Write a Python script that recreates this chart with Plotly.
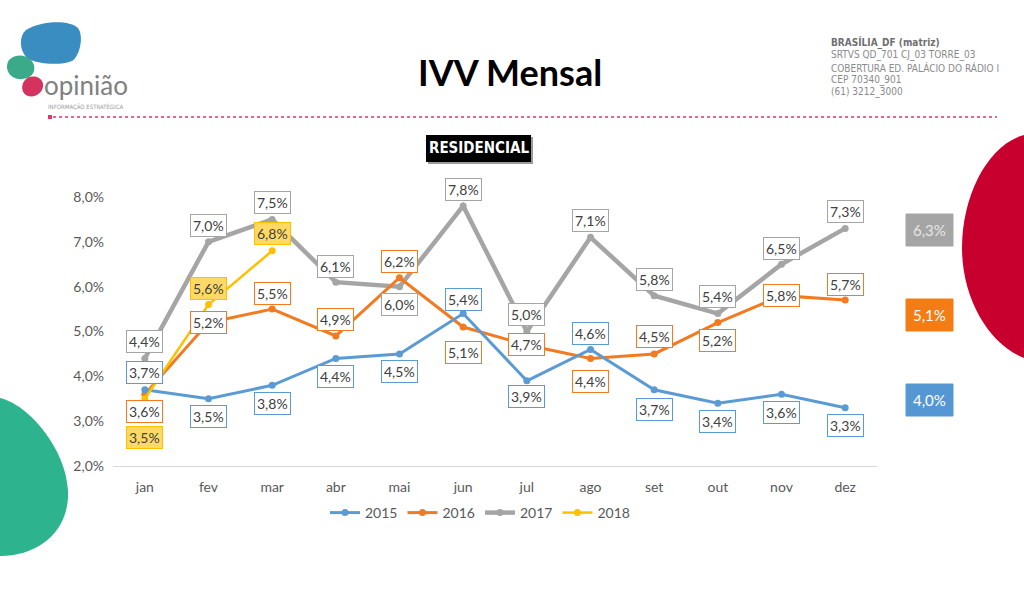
import plotly.graph_objects as go

months = ["jan", "fev", "mar", "abr", "mai", "jun", "jul", "ago", "set", "out", "nov", "dez"]
s2015 = [3.7, 3.5, 3.8, 4.4, 4.5, 5.4, 3.9, 4.6, 3.7, 3.4, 3.6, 3.3]
s2016 = [3.6, 5.2, 5.5, 4.9, 6.2, 5.1, 4.7, 4.4, 4.5, 5.2, 5.8, 5.7]
s2017 = [4.4, 7.0, 7.5, 6.1, 6.0, 7.8, 5.0, 7.1, 5.8, 5.4, 6.5, 7.3]
s2018 = [3.5, 5.6, 6.8]
media = {"2017": 6.3, "2016": 5.1, "2015": 4.0}
y_ticks = [2, 3, 4, 5, 6, 7, 8]

# label placement (pixels above the point; negative = below)
off = {
    "2015": [17, -18, -18, -18, -18, 14, -16, 16, -20, -18, -18, -18],
    "2016": [-17, 0, 16, 16, 16, -25, 0, -23, 17, -18, 0, 16],
    "2017": [17, 16, 17, 16, -18, 16, 17, 17, 16, 17, 16, 17],
    "2018": [-39, 16, 17],
}

C15, C16, C17, C18 = "#5B9BD5", "#F27B22", "#A5A5A5", "#FFC000"
W, H = 1024, 598
L, T, PW, PH = 113, 197, 764, 269


def px(x):
    return (x - L) / PW


def py(y):
    return (T + PH - y) / PH


def path(segs):
    out = []
    for cmd, pts in segs:
        out.append(cmd + " " + " ".join(f"{px(x):.5f},{py(y):.5f}" for x, y in pts))
    return " ".join(out) + " Z"


def fmt(v):
    return f"{v:.1f}".replace(".", ",") + "%"


def note(x, y, text, size, color, family="Lato", xanchor="center"):
    return dict(x=px(x), y=py(y), xref="paper", yref="paper", text=text, showarrow=False,
                xanchor=xanchor, yanchor="middle", font=dict(family=family, size=size, color=color))


fig = go.Figure()
series = [("2017", s2017, C17, 4.5, 3), ("2016", s2016, C16, 3, 2), ("2015", s2015, C15, 3, 1), ("2018", s2018, C18, 2.5, 4)]
for name, vals, col, lw, rank in series:
    fig.add_trace(go.Scatter(
        x=months[:len(vals)], y=vals, name=name, mode="lines+markers",
        line=dict(color=col, width=lw), marker=dict(size=7, color=col),
        legendrank=rank, cliponaxis=False,
    ))

ann = []
label_style = {
    "2015": (C15, "white"), "2016": (C16, "white"), "2017": (C17, "white"), "2018": ("#FFC000", "#FFD966"),
}
for name, vals, col, lw, rank in series:
    bc, bg = label_style[name]
    for i, v in enumerate(vals):
        ann.append(dict(
            x=months[i], y=v, xref="x", yref="y", text=fmt(v), showarrow=False,
            xanchor="center", yanchor="middle",
            yshift=off[name][i], bordercolor=bc, borderwidth=1, bgcolor=bg, borderpad=2,
            font=dict(family="Lato", size=14, color="#404040"),
        ))

shapes = []
# right callouts (averages)
callouts = [("2017", C17, 230, 233, "#e6e6e6"), ("2016", "#F47C14", 315, 302, "white"), ("2015", "#5597D3", 400, 403, "white")]
for name, col, cy, tipy, tc in callouts:
    shapes.append(dict(type="path", xref="paper", yref="paper", line=dict(width=0), fillcolor=col,
                       path=path([("M", [(878, tipy)]), ("L", [(907, cy - 3), (907, cy + 10)])])))
    shapes.append(dict(type="rect", xref="paper", yref="paper", x0=px(906), x1=px(953), y0=py(cy - 16), y1=py(cy + 16),
                       fillcolor=col, line=dict(width=1, color=col)))
    ann.append(note(929.5, cy, fmt(media[name]), 15, tc))

# decorative blobs
shapes.append(dict(type="path", xref="paper", yref="paper", line=dict(width=0), fillcolor="#2DB38E", layer="below",
                   path=path([("M", [(0, 398)]), ("C", [(30, 405), (66, 450), (68, 490)]),
                              ("C", [(70, 530), (40, 556), (0, 556)])])))
shapes.append(dict(type="path", xref="paper", yref="paper", line=dict(width=0), fillcolor="#C8002E", layer="below",
                   path=path([("M", [(1024, 135)]), ("C", [(988, 145), (962, 195), (962, 248)]),
                              ("C", [(962, 300), (990, 345), (1024, 358)])])))
# logo
shapes.append(dict(type="path", xref="paper", yref="paper", line=dict(width=0), fillcolor="#3A8DC0",
                   path=path([("M", [(26, 30)]), ("C", [(42, 20), (70, 20), (78, 28)]), ("C", [(84, 36), (80, 56), (72, 61)]),
                              ("C", [(60, 66), (36, 64), (27, 58)]), ("C", [(19, 50), (19, 36), (26, 30)])])))
shapes.append(dict(type="path", xref="paper", yref="paper", line=dict(width=0), fillcolor="#3AAA88",
                   path=path([("M", [(9, 60)]), ("C", [(17, 52), (31, 55), (34, 65)]), ("C", [(36, 74), (29, 80), (19, 79)]),
                              ("C", [(9, 78), (4, 68), (9, 60)])])))
shapes.append(dict(type="path", xref="paper", yref="paper", line=dict(width=0), fillcolor="#D3335E",
                   path=path([("M", [(25, 80)]), ("C", [(30, 74), (42, 76), (43, 84)]), ("C", [(44, 92), (36, 98), (28, 96)]),
                              ("C", [(22, 94), (20, 86), (25, 80)])])))
# dotted separator
shapes.append(dict(type="line", xref="paper", yref="paper", x0=px(53), x1=px(997), y0=py(117), y1=py(117),
                   line=dict(color="#E8336B", width=1.5, dash="dot")))
shapes.append(dict(type="rect", xref="paper", yref="paper", x0=px(48), x1=px(52), y0=py(115), y1=py(119),
                   fillcolor="#E8336B", line=dict(width=0)))
# RESIDENCIAL box
shapes.append(dict(type="rect", xref="paper", yref="paper", x0=px(428), x1=px(533), y0=py(137), y1=py(164),
                   fillcolor="#9a9a9a", line=dict(width=0)))
shapes.append(dict(type="rect", xref="paper", yref="paper", x0=px(426), x1=px(531), y0=py(135), y1=py(162),
                   fillcolor="black", line=dict(width=0)))

NARROW = "Liberation Sans Narrow, DejaVu Sans Condensed"
ann += [
    note(510, 72, "<b>IVV Mensal</b>", 36, "black"),
    note(478.5, 148.5, "<b>RESIDENCIAL</b>", 15, "white", NARROW),
    note(42, 85, "opinião", 26, "#808080", "Lato", "left"),
    note(46, 107, "INFORMAÇÃO ESTRATÉGICA", 6, "#9a9a9a", NARROW, "left"),
]
addr = ["<b>BRASÍLIA_DF (matriz)</b>", "SRTVS QD_701 CJ_03 TORRE_03", "COBERTURA ED. PALÁCIO DO RÁDIO I",
        "CEP 70340_901", "(61) 3212_3000"]
for i, line in enumerate(addr):
    ann.append(note(829, 43 + i * 12.3, line, 10, "#6f6f6f" if i == 0 else "#8a8a8a", NARROW, "left"))

fig.update_layout(
    width=W, height=H, margin=dict(l=L, r=W - L - PW, t=T, b=H - T - PH),
    paper_bgcolor="white", plot_bgcolor="white", separators=",.",
    font=dict(family="Lato", color="#595959", size=13),
    showlegend=True,
    legend=dict(orientation="h", x=px(480), xanchor="center", y=py(513), yanchor="middle",
                font=dict(family="Lato", size=14, color="#595959"), itemwidth=30, tracegroupgap=0),
    annotations=ann, shapes=shapes,
)
fig.update_xaxes(type="category", categoryorder="array", categoryarray=months, range=[-0.5, 11.5],
                 showgrid=False, showline=True, linecolor="#d9d9d9", linewidth=1, ticks="", zeroline=False,
                 tickfont=dict(family="Lato", size=14, color="#595959"), ticklabelstandoff=8)
fig.update_yaxes(range=[2, 8], tickvals=y_ticks, ticktext=[fmt(v) for v in y_ticks], showgrid=False,
                 showline=False, zeroline=False, ticks="", tickfont=dict(family="Lato", size=14, color="#595959"),
                 ticklabelstandoff=8)

fig.write_html("out.html", config={"displayModeBar": False},
               post_script="document.body.style.margin='0';document.body.style.overflow='hidden';")
